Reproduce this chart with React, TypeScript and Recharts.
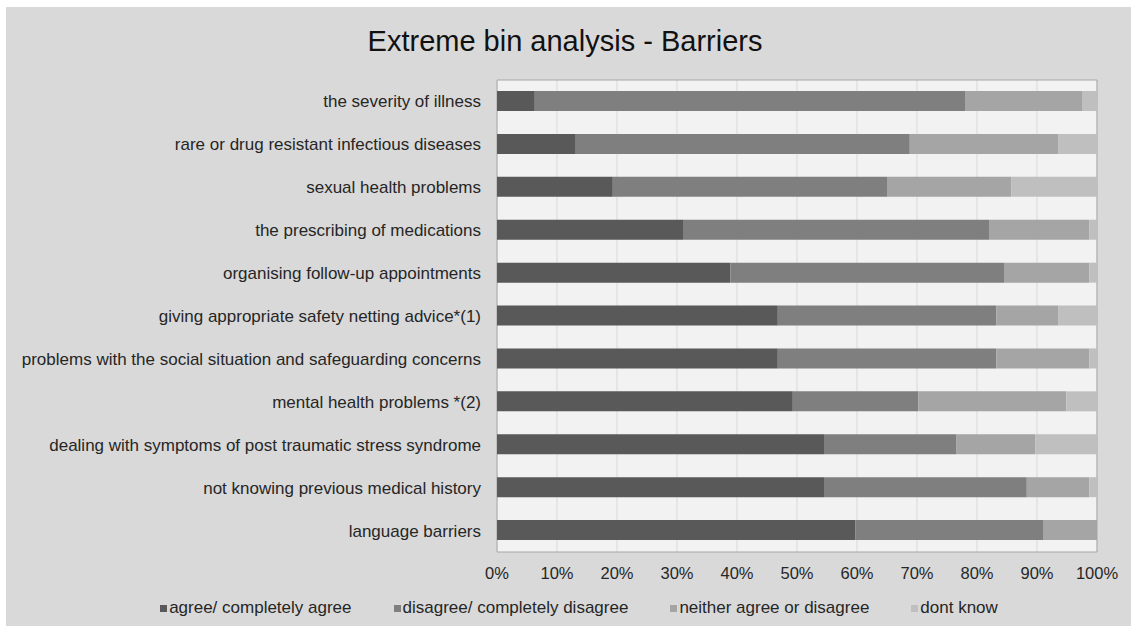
import { BarChart, Bar, XAxis, YAxis, CartesianGrid, ReferenceArea } from 'recharts';

const categories = [
  'the severity of illness',
  'rare or drug resistant infectious diseases',
  'sexual health problems',
  'the prescribing of medications',
  'organising follow-up appointments',
  'giving appropriate safety netting advice*(1)',
  'problems with the social situation and safeguarding concerns',
  'mental health problems *(2)',
  'dealing with symptoms of post traumatic stress syndrome',
  'not knowing previous medical history',
  'language barriers',
];

const agree = [6.3, 13, 19.3, 31, 38.9, 46.8, 46.8, 49.3, 54.5, 54.5, 59.7];
const disagree = [71.7, 55.8, 45.7, 51, 45.6, 36.4, 36.4, 20.9, 22.1, 33.8, 31.3];
const neither = [19.5, 24.8, 20.7, 16.7, 14.2, 10.4, 15.5, 24.7, 13.1, 10.4, 9];
const dontKnow = [2.5, 6.4, 14.3, 1.3, 1.3, 6.4, 1.3, 5.1, 10.3, 1.3, 0];

const xTicks = [0, 0.1, 0.2, 0.3, 0.4, 0.5, 0.6, 0.7, 0.8, 0.9, 1];

const series = [
  { key: 'agree', label: 'agree/ completely agree', color: '#595959' },
  { key: 'disagree', label: 'disagree/ completely disagree', color: '#7f7f7f' },
  { key: 'neither', label: 'neither agree or disagree', color: '#a5a5a5' },
  { key: 'dontKnow', label: 'dont know', color: '#bfbfbf' },
];

const data = categories.map((name, i) => ({
  name,
  agree: agree[i],
  disagree: disagree[i],
  neither: neither[i],
  dontKnow: dontKnow[i],
}));

const FONT = '"Liberation Sans", Arial, sans-serif';

export default function App() {
  return (
    <div
      style={{
        position: 'absolute',
        left: 6,
        top: 7,
        width: 1125,
        height: 619,
        background: '#d9d9d9',
        fontFamily: FONT,
      }}
    >
      <div
        style={{
          position: 'absolute',
          top: 18,
          left: 0,
          width: 1118,
          textAlign: 'center',
          fontSize: 29,
          color: '#111111',
        }}
      >
        Extreme bin analysis - Barriers
      </div>
      <BarChart
        width={1125}
        height={619}
        data={data}
        layout="vertical"
        stackOffset="expand"
        barSize={20}
        margin={{ top: 73, right: 34, bottom: 44, left: 11 }}
      >
        <CartesianGrid horizontal={false} stroke="#d9d9d9" fill="#f2f2f2" />
        <XAxis
          type="number"
          domain={[0, 1]}
          ticks={xTicks}
          tickFormatter={(v: number) => `${Math.round(v * 100)}%`}
          axisLine={false}
          tickLine={false}
          tickMargin={9}
          height={30}
          tick={{ fill: '#262626', fontSize: 16.5, fontFamily: FONT }}
        />
        <YAxis
          type="category"
          dataKey="name"
          width={480}
          axisLine={false}
          tickLine={false}
          tickMargin={10}
          interval={0}
          tick={{ fill: '#262626', fontSize: 17, fontFamily: FONT }}
        />
        {series.map((s) => (
          <Bar key={s.key} dataKey={s.key} stackId="a" fill={s.color} isAnimationActive={false} />
        ))}
        <ReferenceArea x1={0} x2={1} fill="none" fillOpacity={0} stroke="#a6a6a6" strokeWidth={1} ifOverflow="visible" />
      </BarChart>
      <div
        style={{
          position: 'absolute',
          top: 591,
          left: 0,
          width: 1146,
          display: 'flex',
          justifyContent: 'center',
          gap: 42,
          fontSize: 17,
          color: '#262626',
        }}
      >
        {series.map((s) => (
          <div key={s.key} style={{ display: 'flex', alignItems: 'center' }}>
            <span style={{ display: 'inline-block', width: 7, height: 7, background: s.color, marginRight: 2 }} />
            <span>{s.label}</span>
          </div>
        ))}
      </div>
    </div>
  );
}
